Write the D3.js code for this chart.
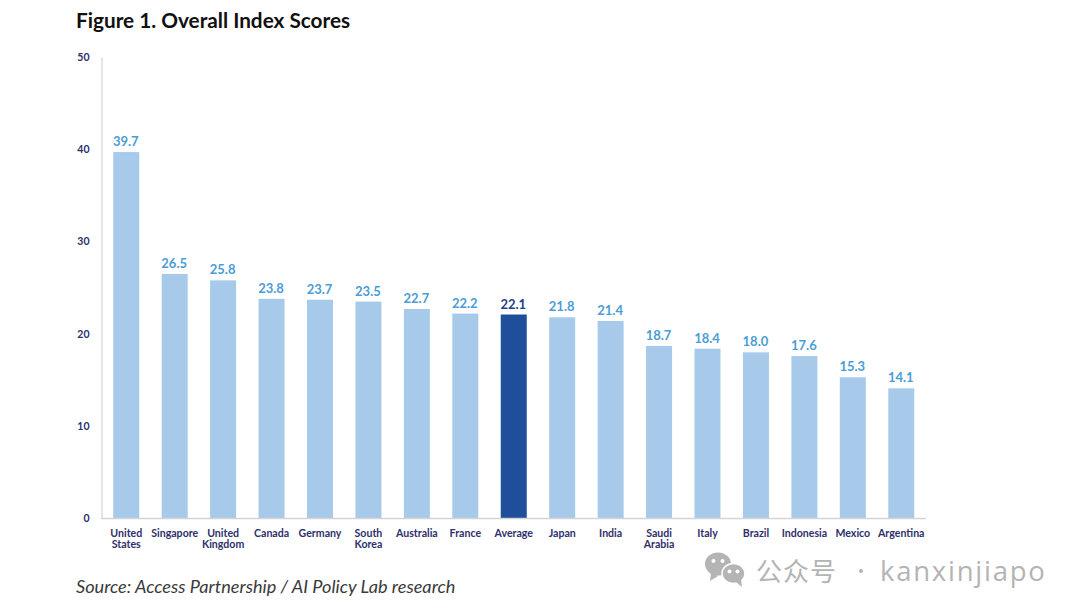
<!DOCTYPE html>
<html>
<head>
<meta charset="utf-8">
<script src="https://cdnjs.cloudflare.com/ajax/libs/d3/7.8.5/d3.min.js"></script>
<style>
html,body{margin:0;padding:0;background:#fff;overflow:hidden}
svg{display:block}
</style>
</head>
<body>
<svg id="chart" width="1080" height="613"></svg>
<script>
const countries = [
  ["United","States"],["Singapore"],["United","Kingdom"],["Canada"],["Germany"],["South","Korea"],
  ["Australia"],["France"],["Average"],["Japan"],["India"],["Saudi","Arabia"],["Italy"],["Brazil"],
  ["Indonesia"],["Mexico"],["Argentina"]
];
const scores = [39.7,26.5,25.8,23.8,23.7,23.5,22.7,22.2,22.1,21.8,21.4,18.7,18.4,18.0,17.6,15.3,14.1];
const yTicks = [0,10,20,30,40,50];
const highlighted = "Average";
const titleText = "Figure 1. Overall Index Scores";
const sourceText = "Source: Access Partnership / AI Policy Lab research";

const sans = "Lato, 'Open Sans', sans-serif";
const svg = d3.select("#chart");

const names = countries.map(c => c.join(" "));
const x = d3.scaleBand().domain(names).range([102, 925.5]).paddingInner(0.463).paddingOuter(0.232);
const y = d3.scaleLinear().domain([0, 50]).range([518.5, 57]);

// Title and source line
svg.append("text").attr("x", 76).attr("y", 28)
  .attr("font-family", sans).attr("font-weight", 700).attr("font-size", 20.75).attr("fill", "#111")
  .text(titleText);
svg.append("text").attr("x", 76).attr("y", 593)
  .attr("font-family", sans).attr("font-style", "italic").attr("font-size", 18.15).attr("fill", "#3a3a3a")
  .text(sourceText);

// Bars
svg.append("g").selectAll("rect").data(scores).join("rect")
  .attr("x", (d, i) => x(names[i]))
  .attr("y", d => y(d))
  .attr("width", x.bandwidth())
  .attr("height", d => y(0) - y(d))
  .attr("fill", (d, i) => names[i] === highlighted ? "#1f4e9b" : "#a7caeb");

// Value labels
svg.append("g").selectAll("text").data(scores).join("text")
  .attr("x", (d, i) => x(names[i]) + x.bandwidth() / 2 - 0.5)
  .attr("y", d => y(d) - 6)
  .attr("text-anchor", "middle")
  .attr("font-family", sans).attr("font-weight", 700).attr("font-size", 13)
  .attr("fill", (d, i) => names[i] === highlighted ? "#1f3f86" : "#4a9dd6")
  .text(d => d.toFixed(1));

// Y axis: line and tick labels
const yAxis = svg.append("g").attr("transform", "translate(101.5,0)")
  .call(d3.axisLeft(y).tickValues(yTicks).tickSize(0).tickPadding(12));
yAxis.select(".domain").attr("stroke", "#d4d4d8").attr("stroke-width", 1.2);
yAxis.selectAll("text").attr("font-family", sans).attr("font-weight", 700).attr("font-size", 10.5).attr("fill", "#2e2f6b");

// X axis: line and wrapped category labels
const xAxis = svg.append("g").attr("transform", "translate(0,518.5)")
  .call(d3.axisBottom(x).tickSize(0).tickFormat(""));
xAxis.select(".domain").attr("d", "M101,0H926").attr("stroke", "#d4d4d8").attr("stroke-width", 1.5);
xAxis.selectAll(".tick text").remove();
xAxis.selectAll(".tick").data(countries).append("text")
  .attr("text-anchor", "middle")
  .attr("font-family", sans).attr("font-weight", 700).attr("font-size", 10.6).attr("fill", "#2e2f6b")
  .selectAll("tspan").data(d => d).join("tspan")
  .attr("x", 0).attr("y", (d, i) => 18 + i * 11.7)
  .text(d => d);

// Channel mark at the lower right
const mark = svg.append("g").attr("fill", "#b4b4b4");
mark.append("ellipse").attr("cx", 718).attr("cy", 564).attr("rx", 13).attr("ry", 11.5);
mark.append("path").attr("d", "M711,573l-1,8l8,-5z");
mark.append("ellipse").attr("cx", 733.5).attr("cy", 573.5).attr("rx", 11.5).attr("ry", 10).attr("stroke", "#fff").attr("stroke-width", 1.5);
mark.append("path").attr("d", "M736,582l6,5l-1,-8z");
[[713.5,561],[722.5,561],[729.5,571.5],[737.5,571.5]].forEach(([cx, cy]) =>
  svg.append("circle").attr("cx", cx).attr("cy", cy).attr("r", 2).attr("fill", "#fff"));
svg.append("text").attr("x", 756).attr("y", 581)
  .attr("font-family", "'Noto Sans CJK SC'").attr("font-size", 26).attr("letter-spacing", 1).attr("fill", "#b4b4b4")
  .text("公众号");
svg.append("circle").attr("cx", 861).attr("cy", 571).attr("r", 2).attr("fill", "#b4b4b4");
svg.append("text").attr("x", 880).attr("y", 581)
  .attr("font-family", "'Open Sans', sans-serif").attr("font-size", 27.5).attr("letter-spacing", 1.75).attr("fill", "#b4b4b4")
  .text("kanxinjiapo");
</script>
</body>
</html>
